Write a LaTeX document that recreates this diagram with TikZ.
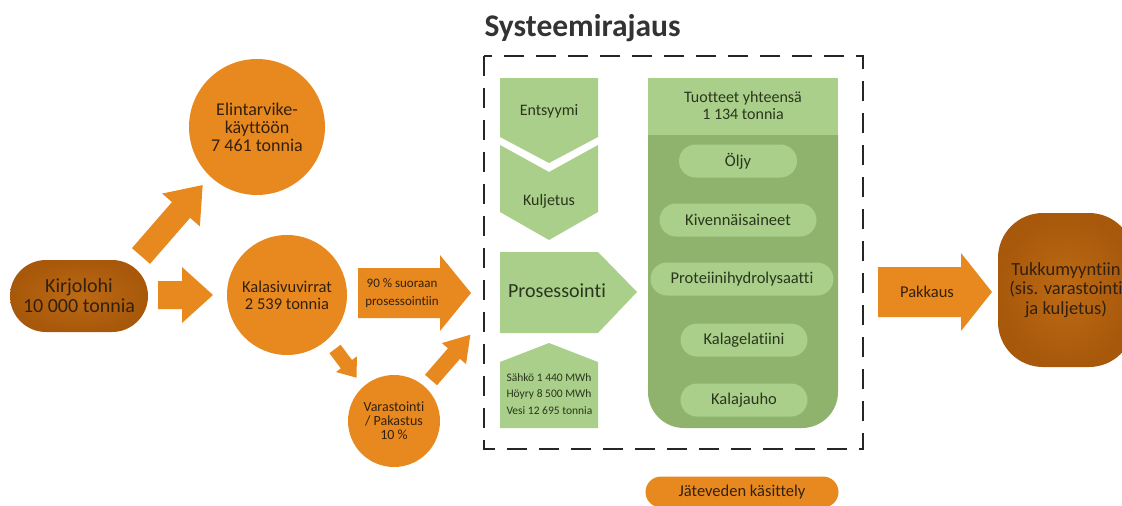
\documentclass[tikz,border=0pt]{standalone}
\usepackage{fontspec}
\setmainfont[Ligatures={NoCommon}]{Carlito}
\usetikzlibrary{shapes.misc}
\definecolor{orng}{HTML}{E8891F}
\definecolor{brwnd}{HTML}{A8580A}
\definecolor{brwnl}{HTML}{BC6A15}
\definecolor{lgrn}{HTML}{A9CF8A}
\definecolor{dgrn}{HTML}{8FB36D}
\definecolor{txtd}{HTML}{33200E}
\definecolor{txtg}{HTML}{2A361C}
\newcommand\fsz[2]{\fontsize{#1}{#2}\selectfont}
\tikzset{
  pics/barrow/.style args={#1/#2/#3/#4}{code={
    \fill[orng] (0,-#2) -- ({#1-#4},-#2) -- ({#1-#4},-#3) -- (#1,0) -- ({#1-#4},#3) -- ({#1-#4},#2) -- (0,#2) -- cycle;}},
  circ/.style={circle, fill=orng, inner sep=0pt, text=txtd, align=center},
  brbox/.style={rounded rectangle, inner sep=0pt, text=txtd, align=center, shade, inner color=brwnl, outer color=brwnd},
  pill/.style={rounded rectangle, fill=lgrn, inner sep=0pt, minimum height=33pt, text=txtg, font=\fsz{16.5}{18}},
  gtext/.style={text=txtg, align=center},
  otext/.style={text=txtd, align=center},
}
\begin{document}
\begin{tikzpicture}[x=1pt,y=-1pt]
\useasboundingbox (0,0) rectangle (1122,506);
\clip (0,0) rectangle (1122,506);

% title and system boundary
\node[anchor=west, text=black!80, font=\bfseries\fsz{31.5}{33}] (title) at (481,28) {Systeemirajaus};
\draw[black!85, line width=2.6pt, dash pattern=on 20pt off 12pt] (484,56) rectangle (863,449);

% left side
\node[brbox, minimum width=138pt, minimum height=72pt, font=\fsz{20}{20}] (kirj) at (79,296) {Kirjolohi\\10 000 tonnia};
\node[circ, minimum size=136pt, font=\fsz{18}{18}] (elin) at (257,127) {Elintarvike-\\käyttöön\\7 461 tonnia};
\node[circ, minimum size=120pt, font=\fsz{16.5}{17}] (kala) at (287,295) {Kalasivuvirrat\\2 539 tonnia};
\node[circ, minimum size=92pt, font=\fsz{14}{14}] (vara) at (394,421) {Varastointi\\/ Pakastus\\10 \%};

\pic[rotate=49] at (141,256) {barrow=94/12/25/33};
\pic at (158,295) {barrow=55/14/28/31};
\pic[rotate=-53] at (335,349) {barrow=36/7/13/17};
\pic[rotate=49] at (431,380) {barrow=60/8/16/25};
\pic at (358,293) {barrow=113/25/38/31};
\node[otext, font=\fsz{13}{18}] (suor) at (402,293) {90 \% suoraan\\prosessointiin};

% green process column
\fill[lgrn] (500,78) -- (598,78) -- (598,137) -- (549,163) -- (500,137) -- cycle;
\fill[lgrn] (500,145) -- (549,172) -- (598,145) -- (598,212) -- (549,240) -- (500,212) -- cycle;
\fill[lgrn] (500,252) -- (598,252) -- (637,292) -- (598,333) -- (500,333) -- cycle;
\fill[lgrn] (500,362) -- (549,343) -- (598,362) -- (598,428) -- (500,428) -- cycle;
\node[gtext, font=\fsz{16}{17}] (ents) at (549,111) {Entsyymi};
\node[gtext, font=\fsz{16}{17}] (kulj) at (549,201) {Kuljetus};
\node[gtext, font=\fsz{20}{20}] (pros) at (557,291) {Prosessointi};
\node[gtext, align=left, anchor=west, font=\fsz{11.5}{16.5}] (sahk) at (503,394) {Sähkö 1 440 MWh\\Höyry 8 500 MWh\\Vesi 12 695 tonnia};

% products box
\fill[dgrn, rounded corners=36pt] (648,100) rectangle (838,428);
\fill[lgrn] (648,78) rectangle (838,135);
\node[gtext, font=\fsz{16}{17}] (tuot) at (743,106) {Tuotteet yhteensä\\1 134 tonnia};
\node[pill, minimum width=118pt] (oljy) at (738,161) {Öljy};
\node[pill, minimum width=157pt] (kive) at (738,220) {Kivennäisaineet};
\node[pill, minimum width=183pt] (prot) at (742,279) {Proteiinihydrolysaatti};
\node[pill, minimum width=127pt] (gela) at (744,340) {Kalagelatiini};
\node[pill, minimum width=127pt] (jauh) at (744,400) {Kalajauho};

% right side
\pic at (878,292) {barrow=114/25/39/31};
\node[otext, font=\fsz{16.5}{17}] (pakk) at (927,292) {Pakkaus};
\node[rectangle, rounded corners=45pt, minimum width=136pt, minimum height=154pt, inner sep=0pt, shade, inner color=brwnl, outer color=brwnd, text=txtd, align=center, font=\fsz{18.5}{19.5}] (tukk) at (1066,290) {Tukkumyyntiin\\(sis. varastointi\\ja kuljetus)};

% waste water
\node[rounded rectangle, fill=orng, minimum width=193pt, minimum height=31pt, inner sep=0pt, text=txtd, font=\fsz{16.5}{17}] (jate) at (742,492) {Jäteveden käsittely};
\end{tikzpicture}
\end{document}
